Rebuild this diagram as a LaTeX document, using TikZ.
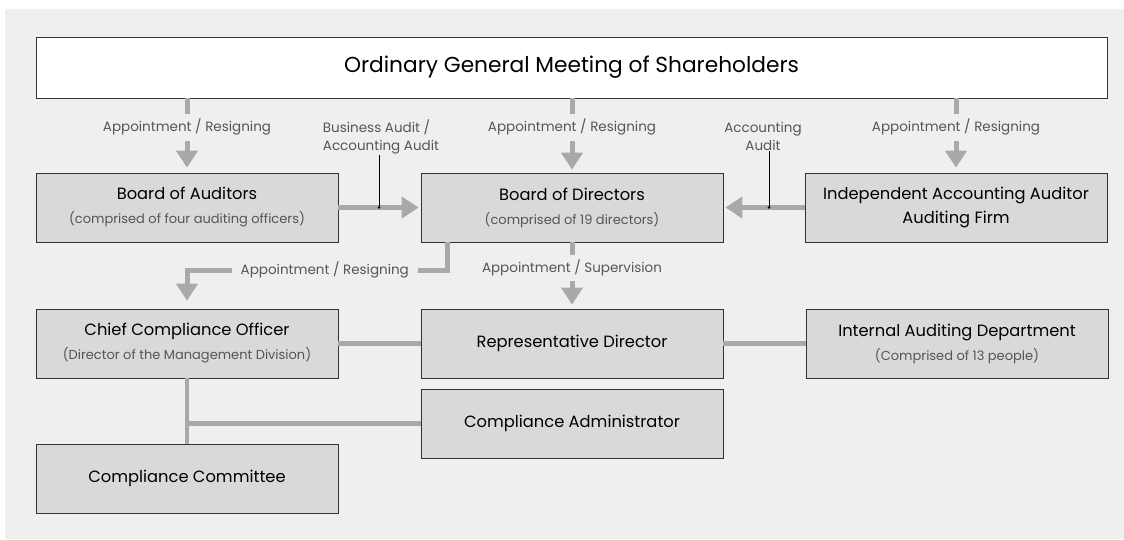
\documentclass[tikz,border=0pt]{standalone}
\usepackage{fontspec}
\setmainfont{Poppins}
\usetikzlibrary{arrows.meta}
\definecolor{panelgray}{HTML}{EEF0EF}
\definecolor{boxgray}{HTML}{D8D9D9}
\definecolor{flowgray}{HTML}{A9A9A9}
\definecolor{textgray}{HTML}{555555}
\newcommand{\subline}[1]{\\[5pt]{\fontsize{13}{15}\selectfont\color{textgray}#1}}
\tikzset{
  unitbox/.style={rectangle, draw=black!80, line width=0.8pt, fill=boxgray, minimum height=69pt, minimum width=302pt, inner sep=0pt, align=center, font=\fontsize{16.3}{19}\selectfont},
  flow/.style={draw=flowgray, line width=5pt, -{Triangle[width=21pt, length=17pt]}},
  link/.style={draw=flowgray, line width=4.5pt},
  lbl/.style={fill=panelgray, text=textgray, inner xsep=9pt, inner ysep=5pt, font=\fontsize{13.5}{15}\selectfont},
  note/.style={text=textgray, align=center, inner sep=1pt, font=\fontsize{13.5}{18}\selectfont}
}
\begin{document}
\begin{tikzpicture}[x=1pt, y=-1pt]
  \useasboundingbox (0,0) rectangle (1124,539);
  \fill[panelgray] (5,9) rectangle (1124,539);
  % units
  \node (meeting) [unitbox, fill=white, minimum width=1071pt, minimum height=61pt, font=\fontsize{21.7}{26}\selectfont] at (571.5, 67.5) {Ordinary General Meeting of Shareholders};
  \node (auditors) [unitbox] at (187, 207.5) {Board of Auditors\subline{(comprised of four auditing officers)}};
  \node (directors) [unitbox] at (572, 207.5) {Board of Directors\subline{(comprised of 19 directors)}};
  \node (firm) [unitbox] at (956, 207.5) {Independent Accounting Auditor\\[5pt]Auditing Firm};
  \node (cco) [unitbox] at (187, 343.5) {Chief Compliance Officer\subline{(Director of the Management Division)}};
  \node (rep) [unitbox] at (572, 343.5) {Representative Director};
  \node (internal) [unitbox] at (957, 343.5) {Internal Auditing Department\subline{(Comprised of 13 people)}};
  \node (admin) [unitbox] at (572, 423.5) {Compliance Administrator};
  \node (committee) [unitbox] at (187, 478.5) {Compliance Committee};
  % plain links
  \draw[link] (cco) -- (rep);
  \draw[link] (rep) -- (internal);
  \draw[link] (cco.south) -- (committee.north);
  \draw[link] (cco.south |- admin.west) -- (admin.west);
  % appointments from the meeting
  \draw[flow, shorten >=5pt] (meeting.south -| auditors.north) -- node[lbl, pos=0.39] {Appointment / Resigning} (auditors.north);
  \draw[flow, shorten >=3pt] (meeting.south -| directors.north) -- node[lbl, pos=0.39] {Appointment / Resigning} (directors.north);
  \draw[flow, shorten >=5pt] (meeting.south -| firm.north) -- node[lbl, pos=0.39] {Appointment / Resigning} (firm.north);
  % audits
  \draw[flow, shorten >=2pt] (auditors.east) -- (directors.west);
  \draw[flow, shorten >=2pt] (firm.west) -- (directors.west -| directors.east);
  \node (bizaudit) [note, align=left] at (381, 137) {Business Audit /\\Accounting Audit};
  \node (accaudit) [note] at (763, 136) {Accounting\\Audit};
  \coordinate (bizdot) at (379, 207.5);
  \coordinate (accdot) at (769, 207.5);
  \draw[black, line width=0.8pt] (bizdot |- bizaudit.south) -- (bizdot);
  \draw[black, line width=0.8pt] (accdot |- accaudit.south) -- (accdot);
  \fill[black] (bizdot) circle (1.3pt);
  \fill[black] (accdot) circle (1.3pt);
  % directors downward
  \draw[flow, shorten >=4pt] (directors.south) -- node[lbl, pos=0.39] {Appointment / Supervision} (rep.north);
  \coordinate (bend) at (447, 270);
  \draw[flow, shorten >=8pt] (directors.south -| bend) -- (bend) -- node[lbl, pos=0.47] {Appointment / Resigning} (bend -| cco.north) -- (cco.north);
\end{tikzpicture}
\end{document}
